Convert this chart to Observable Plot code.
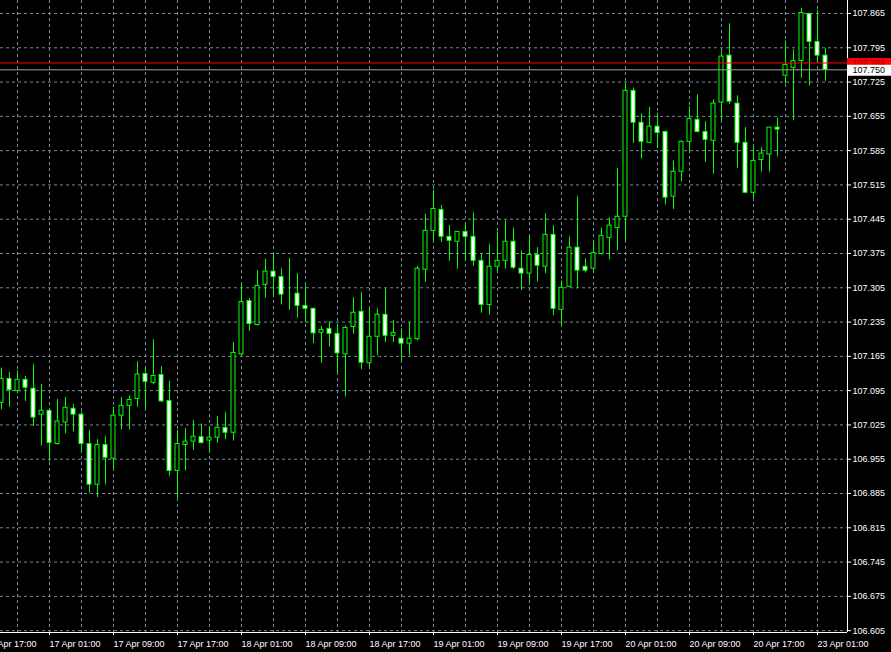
<!DOCTYPE html>
<html><head><meta charset="utf-8">
<script src="https://cdn.jsdelivr.net/npm/d3@7"></script>
<script src="https://cdn.jsdelivr.net/npm/@observablehq/plot@0.6"></script>
<style>
html,body{margin:0;padding:0;background:#000;}
#chart{width:891px;height:652px;overflow:hidden;}
</style></head><body><div id="chart"></div>
<script>
// H1 candles, bar 0 = 16 Apr 19:00 … bar 103 = 23 Apr 02:00
const open = [
107.070,107.119,107.094,107.117,107.099,107.046,107.054,106.986,107.030,107.058,
107.046,106.986,106.903,106.984,106.956,107.044,107.064,107.078,107.129,107.111,
107.127,107.074,106.931,106.984,106.991,107.000,106.993,106.999,107.019,107.009,
107.169,107.278,107.229,107.311,107.338,107.327,107.293,107.293,107.268,107.262,
107.213,107.221,107.211,107.169,107.225,107.256,107.151,107.205,107.250,107.207,
107.201,107.191,107.200,107.342,107.421,107.464,107.409,107.399,107.419,107.409,
107.360,107.270,107.348,107.360,107.399,107.344,107.334,107.372,107.348,107.413,
107.260,107.307,107.387,107.348,107.344,107.374,107.407,107.427,107.450,107.707,
107.642,107.601,107.634,107.623,107.491,107.542,107.603,107.648,107.623,107.605,
107.683,107.779,107.681,107.601,107.499,107.566,107.577,107.632,107.738,107.754,
107.768,107.864,107.807,107.779];
const high = [
107.141,107.132,107.135,107.124,107.148,107.108,107.056,107.077,107.081,107.067,
107.051,107.014,106.995,107.001,107.061,107.081,107.084,107.154,107.140,107.199,
107.144,107.114,107.014,107.018,107.034,107.027,107.022,107.042,107.050,107.193,
107.311,107.283,107.340,107.363,107.373,107.344,107.365,107.334,107.309,107.264,
107.226,107.236,107.231,107.227,107.285,107.295,107.262,107.262,107.303,107.238,
107.221,107.234,107.348,107.455,107.504,107.473,107.432,107.419,107.436,107.458,
107.374,107.393,107.419,107.442,107.427,107.380,107.409,107.387,107.456,107.432,
107.319,107.409,107.491,107.364,107.399,107.427,107.448,107.549,107.723,107.713,
107.660,107.673,107.661,107.625,107.564,107.605,107.674,107.699,107.644,107.689,
107.787,107.844,107.697,107.632,107.593,107.591,107.632,107.652,107.809,107.791,
107.875,107.866,107.871,107.793];
const low = [
107.056,107.061,107.092,107.073,107.022,106.982,106.950,106.984,107.007,107.010,
106.971,106.886,106.877,106.903,106.935,107.015,107.015,107.061,107.058,107.107,
107.071,106.920,106.874,106.931,106.973,106.986,106.969,106.988,106.995,106.992,
107.167,107.216,107.227,107.284,107.291,107.270,107.259,107.243,107.233,107.191,
107.151,107.184,107.131,107.082,107.210,107.138,107.144,107.166,107.193,107.193,
107.156,107.166,107.197,107.316,107.401,107.397,107.359,107.343,107.359,107.349,
107.253,107.249,107.337,107.343,107.342,107.299,107.311,107.317,107.334,107.248,
107.228,107.305,107.303,107.335,107.339,107.372,107.362,107.380,107.400,107.600,
107.568,107.599,107.589,107.474,107.465,107.521,107.585,107.621,107.561,107.537,
107.646,107.679,107.549,107.497,107.487,107.541,107.541,107.572,107.721,107.646,
107.733,107.717,107.764,107.726];
const close = [
107.119,107.096,107.117,107.101,107.040,107.054,106.988,107.032,107.060,107.046,
106.986,106.903,106.984,106.958,107.044,107.064,107.076,107.128,107.113,107.125,
107.073,106.931,106.986,106.991,107.001,106.988,106.999,107.019,107.009,107.172,
107.276,107.231,107.309,107.338,107.327,107.291,107.293,107.268,107.262,107.212,
107.219,107.211,107.171,107.223,107.254,107.152,107.205,107.250,107.207,107.213,
107.191,107.201,107.344,107.421,107.466,107.409,107.401,107.419,107.409,107.360,
107.270,107.348,107.360,107.399,107.346,107.334,107.372,107.350,107.413,107.262,
107.305,107.387,107.340,107.340,107.376,107.411,107.432,107.450,107.707,107.642,
107.603,107.634,107.621,107.489,107.542,107.603,107.650,107.623,107.607,107.681,
107.777,107.685,107.601,107.499,107.564,107.579,107.632,107.628,107.760,107.768,
107.866,107.807,107.779,107.750];

// time axis: bar index of each label
const timeTickIndex = [-2, 6, 14, 22, 30, 38, 46, 54, 62, 70, 78, 86, 94, 102];
const timeTickLabels = ["16 Apr 17:00","17 Apr 01:00","17 Apr 09:00","17 Apr 17:00",
  "18 Apr 01:00","18 Apr 09:00","18 Apr 17:00","19 Apr 01:00","19 Apr 09:00",
  "19 Apr 17:00","20 Apr 01:00","20 Apr 09:00","20 Apr 17:00","23 Apr 01:00"];
const gridIndex = [2,6,10,14,18,22,26,30,34,38,42,46,50,54,58,62,66,70,74,78,82,86,90,94,98,102];
const priceTicks = [107.865,107.795,107.725,107.655,107.585,107.515,107.445,107.375,107.305,
  107.235,107.165,107.095,107.025,106.955,106.885,106.815,106.745,106.675,106.605];
const lineLevel = 107.764;
const bidPrice = 107.750;

const candles = open.map((o, i) => ({i, o, h: high[i], l: low[i], c: close[i]}));
const xDomain = [-0.125, 105.75];
const xOuter = xDomain[1] + 44 / 8;   // right edge of the price-scale strip
const yDomain = [106.60122, 107.89154];
const green = "#00ff00";
const gridColor = "#778899";
const fmt = d3.format(".3f");
const font = "'Liberation Sans', Arial, sans-serif";

function priceTag(price, bg, fg) {
  return [
    Plot.ruleY([price], {x1: xDomain[1], x2: xOuter, stroke: bg, strokeWidth: 11, dy: 0.5}),
    Plot.text([price], {y: d => d, text: d => fmt(d), frameAnchor: "right", dx: 5, dy: 0.5,
      textAnchor: "start", fill: fg, fontSize: 9})
  ];
}

const chart = Plot.plot({
  width: 891, height: 652,
  marginLeft: 0, marginRight: 44, marginTop: 0, marginBottom: 20,
  style: {background: "#000", color: "#fff", fontFamily: font, fontSize: "9px"},
  x: {type: "linear", domain: xDomain, axis: null, label: null},
  y: {domain: yDomain, axis: null, label: null},
  marks: [
    Plot.gridX(gridIndex, {stroke: gridColor, strokeOpacity: 1, strokeDasharray: "3,3"}),
    Plot.gridY(priceTicks, {stroke: gridColor, strokeOpacity: 1, strokeDasharray: "3,3"}),
    Plot.ruleX(candles, {x: "i", y1: "l", y2: "h", stroke: green}),
    Plot.rect(candles, {
      x1: d => d.i - 0.25, x2: d => d.i + 0.25, y1: "o", y2: "c",
      fill: d => d.c < d.o ? "#fff" : "#000", stroke: green
    }),
    Plot.ruleY([bidPrice], {stroke: "#a0a0a0"}),
    Plot.ruleY([lineLevel], {stroke: "#ff0000"}),
    Plot.ruleY([yDomain[0]], {stroke: "#fff"}),
    Plot.ruleX([xDomain[1]], {stroke: "#fff"}),
    Plot.axisY(priceTicks, {anchor: "right", tickSize: 3, tickPadding: 2, label: null,
      tickFormat: fmt, color: "#fff", fontSize: 9}),
    Plot.axisX(timeTickIndex, {anchor: "bottom", tickSize: 3, tickPadding: 5, label: null,
      tickFormat: d => timeTickLabels[timeTickIndex.indexOf(d)],
      textAnchor: "start", color: "#fff", fontSize: 9}),
    ...priceTag(lineLevel, "#ff0000", "#a00000"),
    ...priceTag(bidPrice, "#ffffff", "#000000")
  ]
});
document.getElementById("chart").appendChild(chart);
</script></body></html>
